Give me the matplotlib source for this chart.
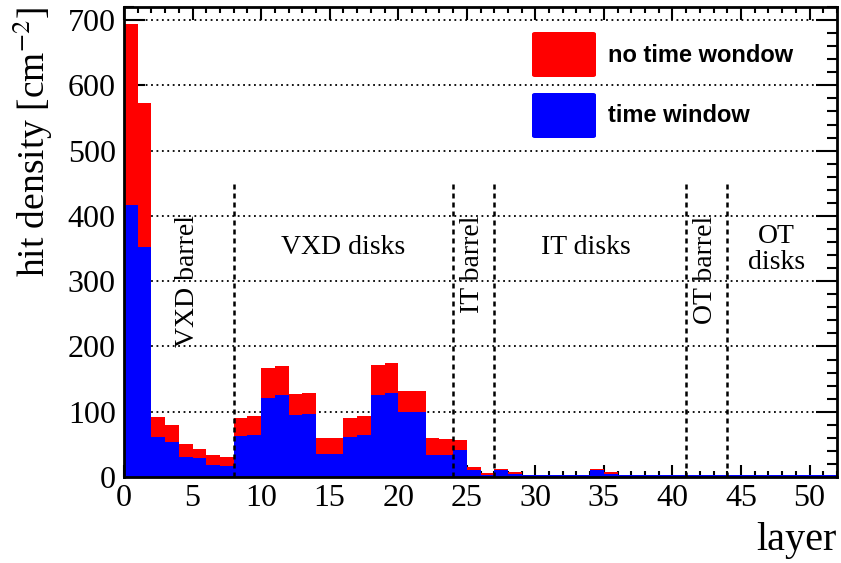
import numpy as np
import matplotlib
matplotlib.use('Agg')
from matplotlib import pyplot as plt
from matplotlib.patches import FancyBboxPatch
from matplotlib.ticker import MultipleLocator

# hit density per layer [cm^-2]
layers = np.arange(52)
no_window = [694, 573, 92, 80, 50, 43, 34, 30,
             90, 94, 167, 170, 127, 129, 59, 59,
             90, 94, 171, 175, 131, 131, 59, 58,
             56, 15, 6, 12, 7, 3, 3, 3, 3, 3, 13, 7,
             3, 3, 3, 3, 3, 3, 3, 3, 3, 3, 3, 3, 3, 3, 3, 3]
with_window = [416, 352, 61, 54, 30, 29, 18, 17,
               63, 65, 121, 125, 95, 97, 35, 35,
               62, 65, 125, 129, 99, 100, 34, 34,
               42, 10, 3, 11, 4, 2.5, 2.5, 2.5, 2.5, 2.5, 11, 4,
               2.5, 2.5, 2.5, 2.5, 2.5, 2.5, 2.5, 2.5, 2.5, 2.5, 2.5, 2.5, 2.5, 2.5, 2.5, 2.5]

boundaries = [8, 24, 27, 41, 44]
sections = ['VXD barrel', 'VXD disks', 'IT barrel', 'IT disks', 'OT barrel', 'OT\ndisks']
legend_labels = ['no time wondow', 'time window']

plt.rcParams['font.family'] = 'Liberation Serif'
plt.rcParams['mathtext.fontset'] = 'stix'

fig = plt.figure(figsize=(8.41, 5.63), dpi=100)
ax = fig.add_axes([124/841, 1-477/563, 713/841, 470/563])

ax.bar(layers, no_window, width=1, align='edge', color='#ff0000', lw=0, zorder=2)
ax.bar(layers, with_window, width=1, align='edge', color='#0000ff', lw=0, zorder=2)

ax.set_xlim(0, 52)
ax.set_ylim(0, 720)
ax.xaxis.set_major_locator(MultipleLocator(5))
ax.xaxis.set_minor_locator(MultipleLocator(1))
ax.yaxis.set_major_locator(MultipleLocator(100))
ax.yaxis.set_minor_locator(MultipleLocator(20))
ax.yaxis.grid(True, linestyle=(0, (1, 2)), color='k', lw=1.3)
ax.set_axisbelow(True)

ax.tick_params(which='both', direction='in', top=True, right=True, width=1.5,
               labelsize=23)
ax.tick_params(axis='x', which='major', length=9, pad=5)
ax.tick_params(axis='x', which='minor', length=4.5)
ax.tick_params(axis='y', which='major', length=15, pad=6)
ax.tick_params(axis='y', which='minor', length=7)
for s in ax.spines.values():
    s.set_linewidth(2)

ax.vlines(boundaries, 0, 450, colors='k', linestyles=(0, (2, 1.6)), lw=1.8, zorder=3)

# section labels
lab_x = [4.65, 16.0, 25.4, 33.7, 42.4, 47.6]
lab_y = [300, 351, 326, 351, 317, 349]
lab_rot = [90, 0, 90, 0, 90, 0]
for t, x, y, r in zip(sections, lab_x, lab_y, lab_rot):
    ax.text(x, y, t, rotation=r, ha='center', va='center', fontsize=20,
            linespacing=1.05, zorder=4)

# legend
leg_colors = ['#ff0000', '#0000ff']
for i, (lab, c) in enumerate(zip(legend_labels, leg_colors)):
    y0 = 1 - (77 + 61*i - 7) / 470
    ax.add_patch(FancyBboxPatch((408/713, y0), 64/713, 45/470,
                                boxstyle='round,pad=0,rounding_size=0.004',
                                transform=ax.transAxes, color=c, lw=0, zorder=5))
    ax.text(484/713, y0 + 22/470, lab, transform=ax.transAxes, ha='left',
            va='center', fontsize=17, fontweight='bold',
            family='Liberation Sans', zorder=5)

ax.text(-0.128, 1.0, 'hit density [cm$^{-2}$]', rotation=90, ha='center', va='top',
        fontsize=27, transform=ax.transAxes)
ax.text(1.0, -0.135, 'layer', ha='right', va='center', fontsize=29,
        transform=ax.transAxes)

plt.savefig('out.png', dpi=100)
